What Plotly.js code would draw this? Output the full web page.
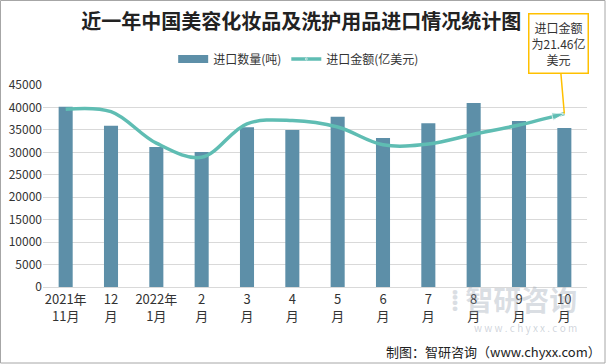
<!DOCTYPE html>
<html><head><meta charset="utf-8">
<script src="https://cdn.plot.ly/plotly-3.0.1.min.js"></script>
<style>html,body{margin:0;padding:0;background:#fff;}#chart{width:606px;height:364px;}</style>
</head><body><div id="chart"></div>
<script>
const categories = ["2021年<br>11月","12<br>月","2022年<br>1月","2<br>月","3<br>月","4<br>月","5<br>月","6<br>月","7<br>月","8<br>月","9<br>月","10<br>月"];
const quantity = [40150, 35900, 31200, 30100, 35600, 35000, 37900, 33200, 36500, 41000, 37000, 35400];
const amount = [22.0, 21.7, 17.8, 16.05, 20.2, 20.6, 19.8, 17.6, 17.7, 18.9, 20.05, 21.46];
const yTicks = [0,5000,10000,15000,20000,25000,30000,35000,40000,45000];

const font = "'Noto Sans CJK SC', 'Noto Sans', sans-serif";
const n = amount.length;
const symbols = amount.map((v,i)=> i===n-1 ? 'arrow' : 'circle');
const sizes = amount.map((v,i)=> i===0 ? 11 : (i===n-1 ? 13 : 0));
const barColor = '#5d8fa8', lineColor = '#5fbdb3';
const L = 43, R = 19, T = 85, B = 77, W = 606 - L - R, H = 364 - T - B;

const data = [
 {type:'bar', name:'进口数量(吨)', x:categories, y:quantity, marker:{color:barColor, line:{width:0}}, showlegend:false},
 {type:'scatter', mode:'lines', name:'进口数量(吨)', x:[null], y:[null], line:{color:barColor, width:8}, showlegend:true},
 {type:'scatter', mode:'lines+markers', name:'进口金额(亿美元)', x:categories, y:amount, yaxis:'y2',
  line:{color:lineColor, width:3.5, shape:'spline', smoothing:1},
  marker:{color:lineColor, symbol:symbols, size:sizes, angleref:'previous'}}
];

const layout = {
 width:606, height:364,
 margin:{l:L, r:R, t:T, b:B},
 paper_bgcolor:'#fff', plot_bgcolor:'#fff',
 font:{family:font, color:'#333', size:12},
 title:{text:'近一年中国美容化妆品及洗护用品进口情况统计图', x:0.497, xanchor:'center', y:0.94, yanchor:'middle',
  font:{family:font, size:20, color:'#222', weight:'bold'}},
 bargap:0.69,
 showlegend:true,
 legend:{orientation:'h', x:0.47, xanchor:'center', y:1+(T-59)/H, yanchor:'middle', font:{size:12, color:'#333'}, itemwidth:30, traceorder:'normal'},
 xaxis:{type:'category', range:[-0.5, categories.length-0.5], automargin:false, tickfont:{size:13, color:'#333'}, showline:true, linecolor:'#d9d9d9', linewidth:1, ticks:'', fixedrange:true},
 yaxis:{range:[0,45000], automargin:false, tickvals:yTicks, ticktext:yTicks.map(String), showgrid:true, gridcolor:'#d9d9d9', gridwidth:1, zeroline:false,
  tickfont:{size:12, color:'#333'}, ticks:'', showline:false},
 yaxis2:{overlaying:'y', side:'right', range:[0,25], visible:false, showgrid:false, automargin:false},
 shapes:[{type:'rect', xref:'paper', yref:'paper', x0:-(L-0.5)/W, x1:1+(R-1)/W, y0:-(B-1)/H, y1:1+(T-0.5)/H, line:{color:'#a6a6a6', width:1}}],
 annotations:[
  {x:categories[n-1], y:amount[n-1], xref:'x', yref:'y2', text:'进口金额<br>为21.46亿<br>美元', showarrow:true, arrowhead:0, arrowwidth:1.5, arrowcolor:'#ffc000',
   ax:-6, ay:-70, bordercolor:'#ffc000', borderwidth:1.5, bgcolor:'#fff', width:56, height:56, font:{size:12, color:'#333'}, align:'center'},
  {xref:'paper', yref:'paper', x:1+16/W, y:-64/H, xanchor:'right', yanchor:'middle', showarrow:false,
   text:'制图：智研咨询（www.chyxx.com）', font:{size:13, color:'#222'}},
  {xref:'paper', yref:'paper', x:0.985, y:-12/H, xanchor:'right', yanchor:'middle', showarrow:false,
   text:'<b>⁞ 智研咨询</b>', font:{size:28, color:'rgba(150,160,175,0.35)'}},
  {xref:'paper', yref:'paper', x:0.985, y:-40/H, xanchor:'right', yanchor:'middle', showarrow:false,
   text:'w w w . c h y x x . c o m', font:{size:10, color:'rgba(150,160,175,0.45)'}}
 ]
};
Plotly.newPlot('chart', data, layout, {displayModeBar:false, staticPlot:true});
</script></body></html>
